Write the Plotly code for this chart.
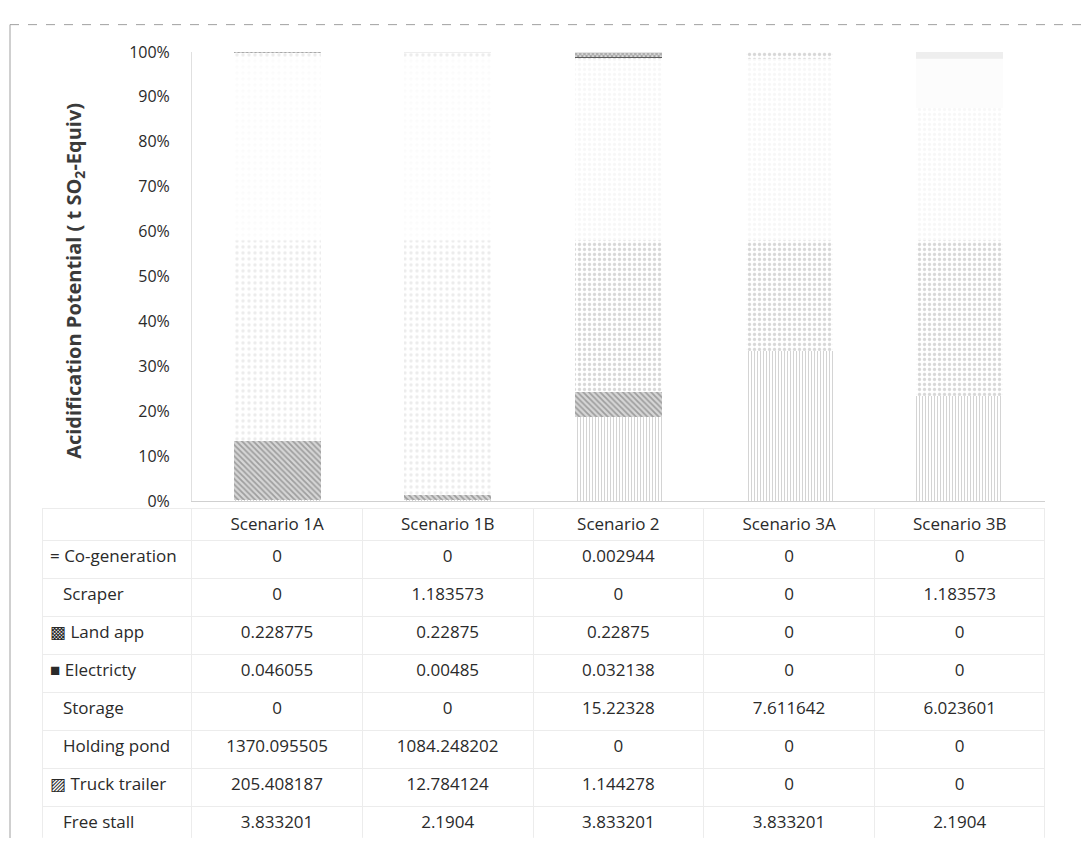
import plotly.graph_objects as go

# ---------------- data ----------------
scenarios = ["Scenario 1A", "Scenario 1B", "Scenario 2", "Scenario 3A", "Scenario 3B"]

co_generation = [0, 0, 0.002944, 0, 0]
scraper = [0, 1.183573, 0, 0, 1.183573]
land_app = [0.228775, 0.22875, 0.22875, 0, 0]
electricity = [0.046055, 0.00485, 0.032138, 0, 0]
storage = [0, 0, 15.22328, 7.611642, 6.023601]
holding_pond = [1370.095505, 1084.248202, 0, 0, 0]
truck_trailer = [205.408187, 12.784124, 1.144278, 0, 0]
free_stall = [3.833201, 2.1904, 3.833201, 3.833201, 2.1904]

series_names = ["Co-generation", "Scraper", "Land app", "Electricty",
                "Storage", "Holding pond", "Truck trailer", "Free stall"]
series_values = [co_generation, scraper, land_app, electricity,
                 storage, holding_pond, truck_trailer, free_stall]

y_ticks = [0, 10, 20, 30, 40, 50, 60, 70, 80, 90, 100]
y_tick_text = [f"{v}%" for v in y_ticks]
y_title = "Acidification Potential ( t SO<sub>2</sub>-Equiv)"

# ---------------- styles ----------------
NB = "\u00a0"
styles = {
    "Co-generation": dict(color="#ffffff", pattern=dict(shape="-", fgcolor="#555555", size=3, solidity=0.5)),
    "Scraper": dict(color="#eeeeee"),
    "Land app": dict(color="#dddddd", pattern=dict(shape="x", fgcolor="#555555", size=3, solidity=0.5)),
    "Electricty": dict(color="#5a5a5a"),
    "Storage": dict(color="#ffffff", pattern=dict(shape=".", fgcolor="#b0b0b0", size=5, solidity=0.35)),
    "Holding pond": dict(color="#ffffff", pattern=dict(shape=".", fgcolor="#dadada", size=6, solidity=0.25)),
    "Truck trailer": dict(color="#d6d6d6", pattern=dict(shape="\\", fgcolor="#666666", size=4, solidity=0.45)),
    "Free stall": dict(color="#ffffff", pattern=dict(shape="|", fgcolor="#a0a0a0", size=3, solidity=0.3)),
}
key_glyph = {
    "Co-generation": "=",
    "Scraper": "\u2002",
    "Land app": "▩",
    "Electricty": "■",
    "Storage": "\u2002",
    "Holding pond": "\u2002",
    "Truck trailer": "▨",
    "Free stall": "\u2002",
}

def row_label(name):
    return key_glyph[name] + NB + name.replace(" ", NB)

FONT = "Open Sans"
W, H = 1090, 849

fig = go.Figure()

# bars: bottom of stack first
for name, vals in reversed(list(zip(series_names, series_values))):
    st = styles[name]
    marker = dict(color=st["color"], line=dict(width=0))
    if "pattern" in st:
        marker["pattern"] = st["pattern"]
    fig.add_trace(go.Bar(x=scenarios, y=vals, name=name, marker=marker,
                         showlegend=False, hoverinfo="skip"))

# data table
def fmt(v):
    return f"{v:.10g}"

table_cols = [[row_label(n) for n in series_names]]
for i in range(len(scenarios)):
    table_cols.append([fmt(vals[i]) for vals in series_values])

fig.add_trace(go.Table(
    domain=dict(x=[42 / W, 1045 / W], y=[0.0, (H - 511) / H]),
    columnwidth=[150, 171, 171, 171, 171, 171],
    header=dict(values=[""] + scenarios, height=32, align=["left"] + ["center"] * 5,
                fill_color="white", line=dict(color="#ececec", width=1),
                font=dict(family=FONT, size=17, color="#2a2a2a")),
    cells=dict(values=table_cols, height=38, align=["left"] + ["center"] * 5,
               fill_color="white", line=dict(color="#ececec", width=1),
               font=dict(family=FONT, size=17, color="#2a2a2a")),
))

fig.update_layout(
    width=W, height=H,
    margin=dict(l=0, r=0, t=0, b=0),
    paper_bgcolor="white", plot_bgcolor="white",
    barmode="stack", barnorm="percent", bargap=0.49,
    font=dict(family=FONT, size=15, color="#2a2a2a"),
    xaxis=dict(domain=[192 / W, 1045 / W], showticklabels=False, showgrid=False,
               showline=True, linecolor="#d0d0d0", linewidth=1, zeroline=False),
    yaxis=dict(domain=[(H - 503) / H, (H - 42) / H], range=[0, 100],
               tickvals=y_ticks, ticktext=y_tick_text, showgrid=False, zeroline=False,
               showline=True, linecolor="#e0e0e0", linewidth=1,
               ticklabelstandoff=18, tickfont=dict(family=FONT, size=16, color="#2a2a2a")),
    annotations=[dict(text="<b>" + y_title + "</b>", textangle=-90,
                      x=75 / W, y=(H - 277) / H, xref="paper", yref="paper",
                      xanchor="center", yanchor="middle",
                      showarrow=False, font=dict(family=FONT, size=20, color="#3a3a3a"))],
    shapes=[
        # scanned-page fading of the upper chart area
        dict(type="rect", xref="x domain", yref="y", x0=0.001, x1=1, y0=58, y1=98.5,
             fillcolor="white", opacity=0.8, line=dict(width=0), layer="above"),
        dict(type="line", xref="paper", yref="paper", x0=10 / W, x1=1.0,
             y0=(H - 14) / H, y1=(H - 14) / H, line=dict(color="#a0a0a0", width=1, dash="dash")),
        dict(type="line", xref="paper", yref="paper", x0=10 / W, x1=10 / W,
             y0=0, y1=(H - 14) / H, line=dict(color="#a0a0a0", width=1)),
    ],
)

fig.write_html("out.html")
